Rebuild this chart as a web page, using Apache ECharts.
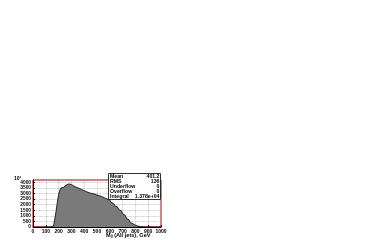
<!DOCTYPE html>
<html>
<head>
<meta charset="utf-8">
<script src="https://cdn.jsdelivr.net/npm/echarts@6/dist/echarts.min.js"></script>
<style>
  html, body { margin: 0; padding: 0; background: #fff; }
  #chart { width: 392px; height: 240px; }
</style>
</head>
<body>
<div id="chart"></div>
<script>
// histogram: lower bin edges (GeV) and contents, 10 GeV bins
const binLow = [0, 100, 140, 150, 160, 170, 180, 190, 200, 210, 220, 230, 240, 250, 260, 270, 280, 290,
  300, 310, 320, 330, 340, 350, 360, 370, 380, 390, 400, 410, 420, 430, 440, 450, 460, 470, 480, 490,
  500, 510, 520, 530, 540, 550, 560, 570, 580, 590, 600, 610, 620, 630, 640, 650, 660, 670, 680, 690,
  700, 710, 720, 730, 740, 750, 760, 770, 780, 790, 800, 810, 820, 830, 840, 850, 860, 880, 1000]
const counts = [0, 0, 30, 80, 250, 700, 1400, 2200, 2900, 3300, 3500, 3550, 3700, 3750, 3700, 3850, 3950, 3800,
  3700, 3650, 3650, 3550, 3500, 3450, 3400, 3350, 3300, 3250, 3200, 3150, 3100, 3050, 3050, 3000, 2950, 2950, 2900, 2850,
  2850, 2800, 2750, 2700, 2650, 2600, 2550, 2500, 2450, 2400, 2300, 2200, 2100, 2000, 1900, 1800, 1700, 1550, 1450, 1350,
  1200, 1050, 900, 780, 640, 520, 400, 300, 220, 160, 110, 80, 50, 35, 20, 10, 5, 0, 0]

const statNames = ['Mean', 'RMS', 'Underflow', 'Overflow', 'Integral']
const statValues = ['401.2', '136', '0', '0', '1.378e+04']

let chart = echarts.init(document.getElementById('chart'))

const font = 'Liberation Sans, Arial, sans-serif'
const statText = []
statNames.forEach((n, i) => {
  statText.push({
    type: 'text', x: 110, y: 174.3 + i * 5, z: 101,
    style: { text: n, font: 'bold 5.2px ' + font, fill: '#000' }
  })
  statText.push({
    type: 'text', x: 159.5, y: 174.3 + i * 5, z: 101,
    style: { text: statValues[i], font: 'bold 5.2px ' + font, fill: '#000', align: 'right' }
  })
})

chart.setOption({
  animation: false,
  backgroundColor: '#fff',
  grid: {
    left: 33, right: 231, top: 180, bottom: 13,
    show: true, borderColor: '#b00000', borderWidth: 1
  },
  xAxis: {
    type: 'value', min: 0, max: 1000, interval: 100,
    axisLine: { lineStyle: { color: '#000', width: 1 } },
    axisTick: { inside: true, length: 2, lineStyle: { color: '#000' } },
    axisLabel: { fontSize: 5, fontWeight: 'bold', fontFamily: font, color: '#000', margin: 2, formatter: v => String(v) },
    splitLine: { show: true, lineStyle: { color: '#999', type: 'dotted', width: 0.6 } }
  },
  yAxis: {
    type: 'value', min: 0, max: 4200, interval: 500,
    axisLine: { show: true, lineStyle: { color: '#000', width: 1 } },
    axisTick: { show: true, inside: true, length: 2, lineStyle: { color: '#000' } },
    axisLabel: { fontSize: 4.8, fontWeight: 'bold', fontFamily: font, color: '#000', margin: 2, showMaxLabel: false, formatter: v => String(v) },
    splitLine: { show: true, lineStyle: { color: '#999', type: 'dotted', width: 0.6 } }
  },
  series: [{
    type: 'line',
    step: 'end',
    symbol: 'none',
    data: binLow.map((x, i) => [x, counts[i]]),
    lineStyle: { color: '#000', width: 0.8 },
    areaStyle: { color: '#7a7a7a', opacity: 1 }
  }],
  graphic: [
    {
      type: 'text', x: 14, y: 176.5,
      style: { text: '10²', font: 'bold 5px ' + font, fill: '#000' }
    },
    {
      type: 'rect', z: 100, shape: { x: 108.5, y: 173.5, width: 52, height: 26 },
      style: { fill: '#fff', stroke: '#000', lineWidth: 0.8 }
    },
    ...statText,
    {
      type: 'text', x: 106, y: 232.5,
      style: {
        text: '{m|M}{s|jj}{m| (All jets), GeV}',
        rich: {
          m: { font: 'bold 5.6px ' + font, fill: '#000', verticalAlign: 'top' },
          s: { font: 'bold 3.5px ' + font, fill: '#000', verticalAlign: 'bottom', padding: [2, 0, 0, 0] }
        }
      }
    }
  ]
})
</script>
</body>
</html>
